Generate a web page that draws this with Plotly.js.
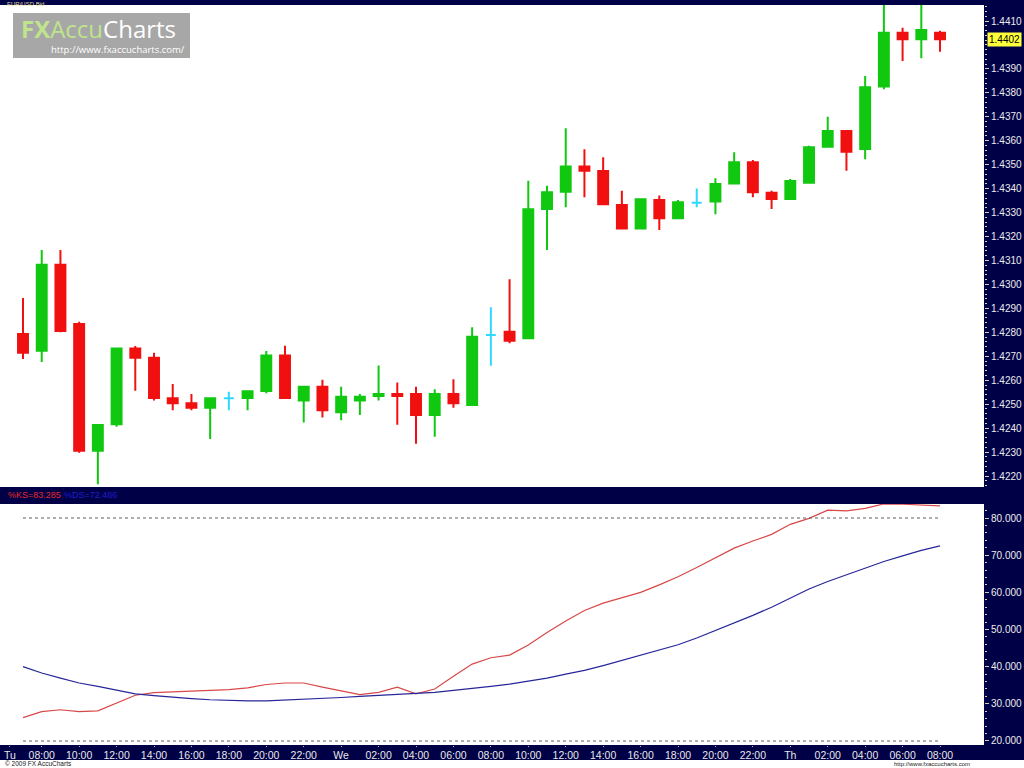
<!DOCTYPE html>
<html><head><meta charset="utf-8">
<script src="https://cdn.plot.ly/plotly-3.0.1.min.js"></script>
<style>html,body{margin:0;padding:0;background:#fff;overflow:hidden}#chart{width:1024px;height:768px;}</style>
</head><body><div id="chart"></div>
<script>
// ---- data (EUR/USD Bid, hourly) ----
const times = ['Tu 07:00','Tu 08:00','Tu 09:00','Tu 10:00','Tu 11:00','Tu 12:00','Tu 13:00','Tu 14:00','Tu 15:00','Tu 16:00','Tu 17:00','Tu 18:00','Tu 19:00','Tu 20:00','Tu 21:00','Tu 22:00','Tu 23:00',
 'We 00:00','We 01:00','We 02:00','We 03:00','We 04:00','We 05:00','We 06:00','We 07:00','We 08:00','We 09:00','We 10:00','We 11:00','We 12:00','We 13:00','We 14:00','We 15:00','We 16:00','We 17:00','We 18:00','We 19:00','We 20:00','We 21:00','We 22:00','We 23:00',
 'Th 00:00','Th 01:00','Th 02:00','Th 03:00','Th 04:00','Th 05:00','Th 06:00','Th 07:00','Th 08:00'];
const open  = [1.42793,1.42723,1.43082,1.42835,1.42306,1.42416,1.42733,1.42694,1.42525,1.42504,1.42485,1.42525,1.42526,1.42555,1.42703,1.42515,1.42573,
 1.42466,1.42515,1.42534,1.42543,1.42543,1.42455,1.42543,1.42497,1.42789,1.42803,1.42775,1.43315,1.43387,1.43492,1.43474,1.43332,1.43234,1.43353,1.43276,1.43341,1.43346,1.43422,1.43510,1.43383,
 1.43357,1.43425,1.43575,1.43641,1.43566,1.43826,1.44051,1.44024,1.44051];
const high  = [1.42943,1.43144,1.43144,1.42844,1.42413,1.42733,1.42743,1.42715,1.42584,1.42543,1.42525,1.42552,1.42554,1.42722,1.42744,1.42573,1.42602,
 1.42573,1.42543,1.42662,1.42591,1.42573,1.42562,1.42604,1.42821,1.42905,1.43022,1.43433,1.43412,1.43652,1.43564,1.43531,1.43391,1.43360,1.43371,1.43353,1.43401,1.43443,1.43552,1.43520,1.43391,
 1.43440,1.43579,1.43700,1.43641,1.43870,1.44180,1.44072,1.44180,1.44059];
const low   = [1.42689,1.42676,1.42800,1.42297,1.42166,1.42406,1.42556,1.42515,1.42475,1.42475,1.42355,1.42475,1.42475,1.42546,1.42526,1.42424,1.42445,
 1.42433,1.42455,1.42515,1.42414,1.42335,1.42364,1.42485,1.42497,1.42661,1.42754,1.42775,1.43144,1.43322,1.43364,1.43335,1.43234,1.43234,1.43227,1.43276,1.43322,1.43293,1.43422,1.43364,1.43315,
 1.43357,1.43425,1.43575,1.43475,1.43523,1.43815,1.43933,1.43944,1.43972];
const close = [1.42715,1.43082,1.42806,1.42306,1.42413,1.42733,1.42694,1.42526,1.42504,1.42485,1.42525,1.42525,1.42554,1.42703,1.42526,1.42573,1.42475,
 1.42531,1.42531,1.42543,1.42534,1.42455,1.42543,1.42504,1.42782,1.42789,1.42765,1.43314,1.43385,1.43492,1.43475,1.43335,1.43234,1.43356,1.43276,1.43343,1.43341,1.43419,1.43510,1.43385,1.43357,
 1.43432,1.43573,1.43641,1.43554,1.43823,1.44051,1.44024,1.44062,1.44024];
// Slow stochastic
const stochK = [26.3,27.9,28.4,27.9,28.1,30.1,32.3,33.0,33.2,33.4,33.6,33.8,34.3,35.2,35.6,35.6,34.5,33.5,32.5,33.1,34.5,32.7,34.0,37.4,40.7,42.4,43.1,45.8,49.2,52.3,55.1,57.1,58.6,60.0,62.0,64.2,66.7,69.4,71.9,73.8,75.6,78.3,79.9,82.1,81.9,82.6,83.8,83.7,83.4,83.285];
const stochD = [40.0,38.3,36.9,35.6,34.7,33.6,32.7,32.2,31.7,31.4,31.1,30.9,30.8,30.8,31.0,31.3,31.4,31.7,32.0,32.2,32.5,32.8,33.1,33.6,34.0,34.7,35.3,36.0,36.9,38.0,39.0,40.3,41.7,43.1,44.4,45.9,47.7,49.7,51.7,53.8,56.0,58.5,60.9,62.9,64.7,66.5,68.3,69.8,71.3,72.486];
const levels = [20, 80];
const priceTicks = [1.422,1.423,1.424,1.425,1.426,1.427,1.428,1.429,1.430,1.431,1.432,1.433,1.434,1.435,1.436,1.437,1.438,1.439,1.441];
const tickPos  = [-0.7,1,3,5,7,9,11,13,15,17,19,21,23,25,27,29,31,33,35,37,39,41,43,45,47,49];
const tickText = ['Tu','08:00','10:00','12:00','14:00','16:00','18:00','20:00','22:00','We','02:00','04:00','06:00','08:00','10:00','12:00','14:00','16:00','18:00','20:00','22:00','Th','02:00','04:00','06:00','08:00'];

// ---- build ----
const W = 1024, H = 768;
const px = v => v / W;          // pixel x -> paper
const py = v => (H - v) / H;    // pixel y (from top) -> paper
const idx = times.map((_, i) => i);
function pick(cond) {
  const s = idx.filter(cond);
  return { x: s, open: s.map(i => open[i]), high: s.map(i => high[i]), low: s.map(i => low[i]), close: s.map(i => close[i]) };
}
const GREEN = '#10c810', RED = '#f01010', CYAN = '#30d8ff', NAVY = '#000046';
function candle(d, color) {
  return Object.assign({ type: 'candlestick', xaxis: 'x', yaxis: 'y', whiskerwidth: 0, hoverinfo: 'skip',
    increasing: { line: { color: color, width: 2 }, fillcolor: color },
    decreasing: { line: { color: color, width: 2 }, fillcolor: color } }, d);
}
const traces = [
  candle(pick(i => close[i] > open[i]), GREEN),
  candle(pick(i => close[i] < open[i]), RED),
  candle(pick(i => close[i] === open[i]), CYAN),
  { type: 'scatter', mode: 'lines', x: idx, y: stochK, xaxis: 'x', yaxis: 'y2', line: { color: '#d84848', width: 1.2 }, hoverinfo: 'skip' },
  { type: 'scatter', mode: 'lines', x: idx, y: stochD, xaxis: 'x', yaxis: 'y2', line: { color: '#26269a', width: 1.2 }, hoverinfo: 'skip' }
];
const last = idx.length - 1;
const font = 'Liberation Sans, Arial, sans-serif';
const navyRect = (x0, y0, x1, y1) => ({ type: 'rect', xref: 'paper', yref: 'paper', x0: px(x0), x1: px(x1), y0: py(y1), y1: py(y0), fillcolor: NAVY, line: { width: 0 }, layer: 'below' });
const shapes = [
  navyRect(0, 0, W, 5), navyRect(0, 487, W, 504), navyRect(0, 745, W, 760), navyRect(984, 0, W, 760),
  { type: 'rect', xref: 'paper', yref: 'paper', x0: px(13), x1: px(190), y0: py(58), y1: py(13), fillcolor: '#a7a7a7', line: { width: 0 }, layer: 'below' }
].concat(levels.map(v => ({ type: 'line', xref: 'x', yref: 'y2', x0: idx[0], x1: idx[last], y0: v, y1: v, line: { color: '#606060', width: 1.2, dash: 'dot' } })));
const ann = (o) => Object.assign({ showarrow: false, xref: 'paper', yref: 'paper', xanchor: 'left', yanchor: 'middle', font: { family: font, size: 10, color: '#000' } }, o);
const annotations = [
  ann({ x: px(6), y: 1, yanchor: 'top', borderpad: 0, text: 'EUR/USD Bid', font: { family: font, size: 6, color: '#e6dc9a' } }),
  ann({ x: px(20), y: py(28), borderpad: 0, text: '<b>FX</b>Accu<span style="color:#ffffff">Charts</span>', font: { family: 'Open Sans, sans-serif', size: 24, color: '#bfe48c' } }),
  ann({ x: px(50), y: py(50), borderpad: 0, text: 'http://www.fxaccucharts.com/', font: { family: 'Open Sans, sans-serif', size: 9.5, color: '#ffffff' } }),
  ann({ x: px(6), y: py(495), text: '%KS=' + stochK[last].toFixed(3), font: { family: font, size: 9, color: '#e82828' } }),
  ann({ x: px(62), y: py(495), text: '%DS=' + stochD[last].toFixed(3), font: { family: font, size: 9, color: '#1e1ed0' } }),
  ann({ x: px(987), yref: 'y', y: close[last], text: close[last].toFixed(4), bgcolor: '#ffff3a', borderpad: 1, font: { family: font, size: 10, color: '#000' } }),
  ann({ x: px(4), y: 0, yanchor: 'bottom', borderpad: 0, text: '\u00a9 2009 FX AccuCharts', font: { family: font, size: 6.5, color: '#202020' } }),
  ann({ x: px(893), y: 0, yanchor: 'bottom', borderpad: 0, text: 'http://www.fxaccucharts.com', font: { family: font, size: 6, color: '#202020' } })
];
const yTick = { family: font, size: 10, color: '#ececec' };
const layout = {
  width: W, height: H, margin: { l: 0, r: 0, t: 0, b: 0 },
  paper_bgcolor: '#ffffff', plot_bgcolor: 'rgba(0,0,0,0)', showlegend: false, hovermode: false,
  boxgap: 0.47, boxgroupgap: 0,
  xaxis: { domain: [px(5), px(984)], range: [-0.962, 51.35], anchor: 'y2', tickvals: tickPos, ticktext: tickText,
    tickfont: { family: font, size: 10.5, color: '#e8e8e8' }, ticks: 'outside', ticklen: 0.5, tickcolor: '#bbbbbb',
    showgrid: false, zeroline: false, showline: false, rangeslider: { visible: false }, fixedrange: true },
  yaxis: { domain: [py(487), py(5)], range: [1.421543, 1.441668], side: 'right', anchor: 'x', tickvals: priceTicks, tickformat: '.4f',
    ticks: 'outside', ticklen: 4, tickcolor: '#d8d0a8', minor: { tick0: 1.42, dtick: 0.0002, ticks: 'outside', ticklen: 2, tickcolor: '#d8d0a8' },
    tickfont: yTick, showgrid: false, zeroline: false, showline: false, fixedrange: true },
  yaxis2: { domain: [py(745), py(504)], range: [18.92, 83.77], side: 'right', anchor: 'x', tick0: 0, dtick: 10, tickformat: '.3f',
    ticks: 'outside', ticklen: 4, tickcolor: '#d8d0a8', minor: { dtick: 2, ticks: 'outside', ticklen: 2, tickcolor: '#d8d0a8' },
    tickfont: yTick, showgrid: false, zeroline: false, showline: false, fixedrange: true },
  shapes: shapes, annotations: annotations
};
Plotly.newPlot('chart', traces, layout, { staticPlot: true, displayModeBar: false });
</script></body></html>
